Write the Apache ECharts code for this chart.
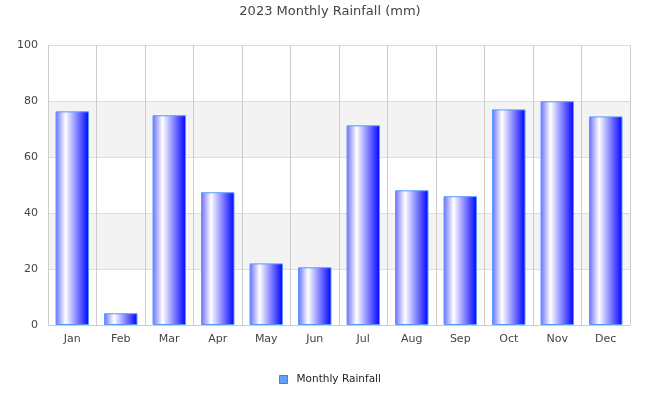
<!DOCTYPE html>
<html>
<head>
<meta charset="utf-8">
<script src="https://cdn.jsdelivr.net/npm/echarts@6/dist/echarts.min.js"></script>
<style>
  html, body { margin: 0; padding: 0; background: #fff; }
  #main { width: 660px; height: 400px; }
</style>
</head>
<body>
<div id="main"></div>
<script>
// monthly rainfall data
var months = ['Jan', 'Feb', 'Mar', 'Apr', 'May', 'Jun', 'Jul', 'Aug', 'Sep', 'Oct', 'Nov', 'Dec'];
var rainfall = [76.3, 4.2, 74.9, 47.4, 22.0, 20.6, 71.3, 48.1, 46.0, 77.0, 79.9, 74.5];
var yTicks = [0, 20, 40, 60, 80, 100];

var chart = echarts.init(document.getElementById('main'));

var barGradient = new echarts.graphic.LinearGradient(0, 0, 1, 0, [
  { offset: 0, color: '#6c6cff' },
  { offset: 0.3, color: '#ffffff' },
  { offset: 1, color: '#0000ff' }
]);

var option = {
  backgroundColor: '#ffffff',
  animation: false,
  textStyle: {
    fontFamily: 'DejaVu Sans'
  },
  title: {
    text: '2023 Monthly Rainfall (mm)',
    left: 'center',
    top: 0,
    textStyle: {
      fontSize: 13,
      fontWeight: 'normal',
      color: '#444'
    }
  },
  legend: {
    bottom: 10,
    left: 'center',
    itemWidth: 8,
    itemHeight: 8,
    icon: 'rect',
    textStyle: {
      fontSize: 10.5,
      color: '#222',
      padding: [0, 0, 0, 4]
    },
    data: [{
      name: 'Monthly Rainfall',
      itemStyle: {
        color: '#5ea3fb',
        borderColor: '#777',
        borderWidth: 1
      }
    }]
  },
  grid: {
    left: 48,
    right: 30,
    top: 45,
    bottom: 75,
    containLabel: false
  },
  xAxis: {
    type: 'category',
    data: months,
    axisTick: { show: false },
    axisLine: { lineStyle: { color: '#cccccc' } },
    axisLabel: { fontSize: 11, color: '#444', margin: 9 },
    splitLine: { show: true, lineStyle: { color: '#cccccc' } }
  },
  yAxis: {
    type: 'value',
    min: yTicks[0],
    max: yTicks[yTicks.length - 1],
    interval: 20,
    axisLine: { show: false },
    axisTick: { show: false },
    axisLabel: { fontSize: 11, color: '#444', margin: 10 },
    splitLine: { show: true, lineStyle: { color: '#dddddd' } },
    splitArea: { show: true, areaStyle: { color: ['#ffffff', '#f3f3f3'] } }
  },
  series: [
    {
      name: 'Monthly Rainfall',
      type: 'bar',
      barWidth: '69%',
      data: rainfall,
      itemStyle: {
        color: barGradient,
        borderColor: '#5599ff',
        borderWidth: 1
      }
    }
  ]
};
chart.setOption(option);
</script>
</body>
</html>
